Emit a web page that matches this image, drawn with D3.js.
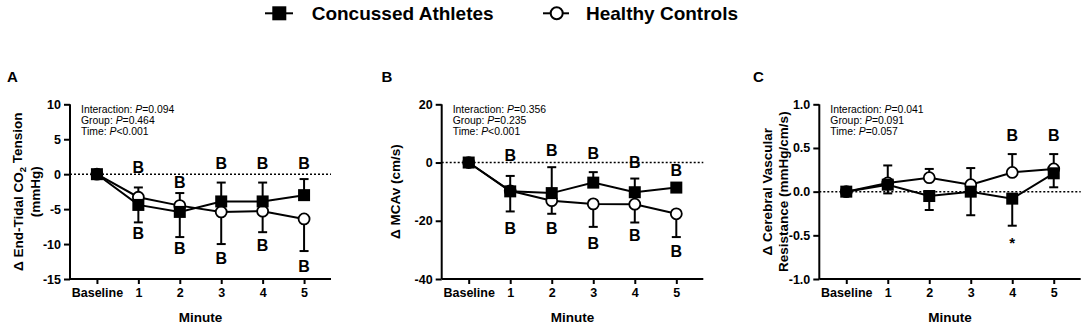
<!DOCTYPE html>
<html>
<head>
<meta charset="utf-8">
<script src="https://cdn.jsdelivr.net/npm/d3@7"></script>
<style>
  body { margin: 0; background: #fff; }
  svg text { font-family: "Liberation Sans", Arial, sans-serif; }
  .tick text { font-weight: bold; font-size: 12.5px; fill: #000; }
</style>
</head>
<body>
<svg id="chart" width="1084" height="326"></svg>
<script>
// minutes on the x axis
const minutes = ['Baseline', '1', '2', '3', '4', '5'];

// Panel A: end-tidal CO2 (mmHg)
const etco2Concussed = [0, -4.4, -5.4, -3.9, -3.9, -3.0];
const etco2ConcussedErr = [null, -6.9, -9.0, -1.2, -1.2, -0.7];
const etco2Controls = [0, -3.3, -4.5, -5.4, -5.3, -6.4];
const etco2ControlsErr = [null, -1.9, -2.7, -10.0, -8.3, -11.0];
const etco2Ticks = [10, 5, 0, -5, -10, -15];
const etco2Stats = ['0.094', '0.464', '<0.001'];
const etco2Marks = [
  ['B', '1', 1.0], ['B', '2', -1.1], ['B', '3', 1.6], ['B', '4', 1.6], ['B', '5', 1.6],
  ['B', '1', -8.4], ['B', '2', -10.6], ['B', '3', -12.1], ['B', '4', -10.2], ['B', '5', -13.2]
];

// Panel B: MCAv (cm/s)
const mcavConcussed = [0, -9.9, -10.5, -6.9, -10.2, -8.6];
const mcavConcussedErr = [null, -16.8, -1.6, -3.3, -5.5, null];
const mcavControls = [0, -9.7, -13.1, -14.2, -14.3, -17.6];
const mcavControlsErr = [null, -4.6, -17.6, -22.1, -20.6, -25.6];
const mcavTicks = [20, 0, -20, -40];
const mcavStats = ['0.356', '0.235', '<0.001'];
const mcavMarks = [
  ['B', '1', 2.6], ['B', '2', 4.1], ['B', '3', 3.2], ['B', '4', 0], ['B', '5', -2.8],
  ['B', '1', -22.5], ['B', '2', -22.5], ['B', '3', -27.7], ['B', '4', -24.9], ['B', '5', -30.6]
];

// Panel C: cerebrovascular resistance (mmHg/cm/s)
const cvrConcussed = [0, 0.08, -0.05, 0.0, -0.08, 0.21];
const cvrConcussedErr = [null, -0.02, -0.21, -0.27, -0.39, 0.05];
const cvrControls = [0, 0.1, 0.16, 0.08, 0.22, 0.26];
const cvrControlsErr = [null, 0.30, 0.26, 0.27, 0.43, 0.43];
const cvrTicks = [1.0, 0.5, 0.0, -0.5, -1.0];
const cvrStats = ['0.041', '0.091', '=0.057'];
const cvrMarks = [['B', '4', 0.65], ['B', '5', 0.65], ['*', '4', -0.53]];

const svg = d3.select('#chart');
const plotTop = 104.3, plotBottom = 279;

// GraphPad uses a plain hyphen for negatives
const hyphen = f => d => f(d).replace('\u2212', '-');

const panels = [
  { letter: 'A', x0: 70, x1: 331, letterX: 7, domain: [-15, 10], ticks: etco2Ticks, fmt: hyphen(d3.format('d')),
    concussed: etco2Concussed, concussedErr: etco2ConcussedErr, controls: etco2Controls, controlsErr: etco2ControlsErr,
    stats: etco2Stats, marks: etco2Marks, titleLines: [['Δ End-Tidal CO', '2', ' Tension'], ['(mmHg)']], titleX: [-52, -35] },
  { letter: 'B', x0: 441.7, x1: 703.3, letterX: 381.5, domain: [-40, 20], ticks: mcavTicks, fmt: hyphen(d3.format('d')),
    concussed: mcavConcussed, concussedErr: mcavConcussedErr, controls: mcavControls, controlsErr: mcavControlsErr,
    stats: mcavStats, marks: mcavMarks, titleLines: [['Δ MCAv (cm/s)']], titleX: [-47] },
  { letter: 'C', x0: 819.3, x1: 1080.7, letterX: 753, domain: [-1, 1], ticks: cvrTicks, fmt: hyphen(d3.format('.1f')),
    concussed: cvrConcussed, concussedErr: cvrConcussedErr, controls: cvrControls, controlsErr: cvrControlsErr,
    stats: cvrStats, marks: cvrMarks, titleLines: [['Δ Cerebral Vascular'], ['Resistance (mmHg/cm/s)']], titleX: [-52.6, -36] }
];

const drawPanel = p => {
  const g = svg.append('g');

  const x = d3.scalePoint()
    .domain(minutes)
    .range([p.x0, p.x1])
    .padding(0.65);

  const y = d3.scaleLinear()
    .domain(p.domain)
    .range([plotBottom, plotTop]);

  // axes
  const yAxisG = g.append('g')
    .attr('transform', `translate(${p.x0},0)`)
    .call(d3.axisLeft(y).tickValues(p.ticks).tickFormat(p.fmt).tickSize(6).tickPadding(3));
  const xAxisG = g.append('g')
    .attr('transform', `translate(0,${plotBottom})`)
    .call(d3.axisBottom(x).tickSize(5).tickPadding(4));
  [yAxisG, xAxisG].forEach(a => {
    a.attr('font-family', null).attr('font-size', null);
    a.select('.domain').attr('stroke-width', 2);
    a.selectAll('.tick line').attr('stroke-width', 2);
  });
  yAxisG.select('.domain').attr('d', `M0,${plotTop}V${plotBottom}`);
  xAxisG.select('.domain').attr('d', `M${p.x0},0H${p.x1}`);

  // dotted zero line
  g.append('line')
    .attr('x1', p.x0).attr('x2', p.x1)
    .attr('y1', y(0)).attr('y2', y(0))
    .attr('stroke', '#000')
    .attr('stroke-width', 1.5)
    .attr('stroke-dasharray', '2,2');

  // series: controls first so squares sit on top
  const series = [
    { vals: p.controls, err: p.controlsErr, shape: 'circle' },
    { vals: p.concussed, err: p.concussedErr, shape: 'square' }
  ];

  series.forEach(s => {
    const pts = minutes.map((m, i) => ({ m, v: s.vals[i], e: s.err[i] }));
    g.append('path')
      .datum(pts)
      .attr('fill', 'none')
      .attr('stroke', '#000')
      .attr('stroke-width', 2)
      .attr('d', d3.line().x(d => x(d.m)).y(d => y(d.v)));

    const eb = g.selectAll(null)
      .data(pts.filter(d => d.e !== null))
      .enter()
      .append('g');
    eb.append('line')
      .attr('x1', d => x(d.m)).attr('x2', d => x(d.m))
      .attr('y1', d => y(d.v)).attr('y2', d => y(d.e))
      .attr('stroke', '#000').attr('stroke-width', 2);
    eb.append('line')
      .attr('x1', d => x(d.m) - 4.5).attr('x2', d => x(d.m) + 4.5)
      .attr('y1', d => y(d.e)).attr('y2', d => y(d.e))
      .attr('stroke', '#000').attr('stroke-width', 2);

    if (s.shape === 'square') {
      g.selectAll(null)
        .data(pts)
        .enter()
        .append('rect')
        .attr('x', d => x(d.m) - 6)
        .attr('y', d => y(d.v) - 6)
        .attr('width', 12)
        .attr('height', 12)
        .attr('fill', '#000');
    } else {
      g.selectAll(null)
        .data(pts)
        .enter()
        .append('circle')
        .attr('cx', d => x(d.m))
        .attr('cy', d => y(d.v))
        .attr('r', 5.5)
        .attr('fill', '#fff')
        .attr('stroke', '#000')
        .attr('stroke-width', 1.8);
    }
  });

  // significance letters
  g.selectAll(null)
    .data(p.marks)
    .enter()
    .append('text')
    .attr('x', d => x(d[1]))
    .attr('y', d => y(d[2]))
    .attr('dy', d => d[0] === '*' ? '0.7em' : '0.36em')
    .attr('text-anchor', 'middle')
    .attr('font-weight', 'bold')
    .attr('font-size', d => d[0] === '*' ? '15px' : '16px')
    .text(d => d[0]);

  // stats block
  const statLabels = ['Interaction: ', 'Group: ', 'Time: '];
  statLabels.forEach((lab, i) => {
    const val = p.stats[i];
    const t = g.append('text')
      .attr('x', p.x0 + 11)
      .attr('y', 112.7 + i * 11.2)
      .attr('font-size', '10.4px');
    t.append('tspan').text(lab);
    t.append('tspan').attr('font-style', 'italic').text('P');
    t.append('tspan').text(val[0] === '<' || val[0] === '=' ? val : '=' + val);
  });

  // y title
  const cy = (plotTop + plotBottom) / 2;
  p.titleLines.forEach((parts, i) => {
    const t = g.append('text')
      .attr('transform', `translate(${p.x0 + p.titleX[i]},${cy}) rotate(-90)`)
      .attr('text-anchor', 'middle')
      .attr('dy', '0.36em')
      .attr('font-weight', 'bold')
      .attr('font-size', '13.5px');
    if (parts.length === 3) {
      t.append('tspan').text(parts[0]);
      t.append('tspan').attr('font-size', '9.5px').attr('dy', '0.3em').text(parts[1]);
      t.append('tspan').attr('dy', '-0.3em').text(parts[2]);
    } else {
      t.text(parts[0]);
    }
  });

  // x title
  g.append('text')
    .attr('x', x('3') - (x('3') - x('2')) / 2)
    .attr('y', 322)
    .attr('text-anchor', 'middle')
    .attr('font-weight', 'bold')
    .attr('font-size', '13.5px')
    .text('Minute');

  // panel letter
  g.append('text')
    .attr('x', p.letterX)
    .attr('y', 82)
    .attr('font-weight', 'bold')
    .attr('font-size', '15px')
    .text(p.letter);
};

panels.forEach(drawPanel);

// legend
const legend = svg.append('g');
legend.append('line').attr('x1', 265).attr('x2', 293).attr('y1', 13.3).attr('y2', 13.3)
  .attr('stroke', '#000').attr('stroke-width', 2);
legend.append('rect').attr('x', 272.3).attr('y', 6.3).attr('width', 14).attr('height', 14).attr('fill', '#000');
legend.append('text').attr('x', 311.7).attr('y', 20).attr('font-weight', 'bold').attr('font-size', '19px')
  .text('Concussed Athletes');
legend.append('line').attr('x1', 543).attr('x2', 569).attr('y1', 13.3).attr('y2', 13.3)
  .attr('stroke', '#000').attr('stroke-width', 2);
legend.append('circle').attr('cx', 556.7).attr('cy', 13.3).attr('r', 6).attr('fill', '#fff')
  .attr('stroke', '#000').attr('stroke-width', 2);
legend.append('text').attr('x', 586).attr('y', 20).attr('font-weight', 'bold').attr('font-size', '19px')
  .text('Healthy Controls');
</script>
</body>
</html>
